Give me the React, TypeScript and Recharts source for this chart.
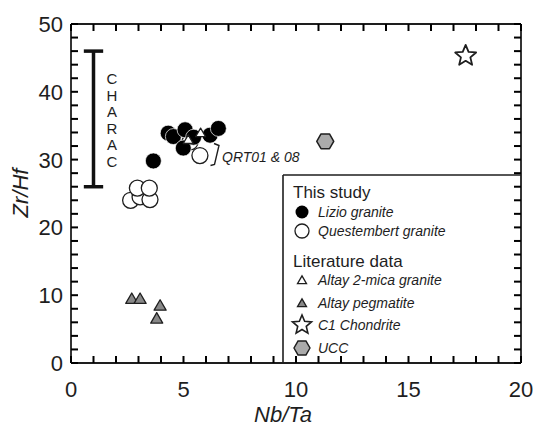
import React from 'react';
import { ScatterChart, Scatter, XAxis, YAxis, ReferenceLine } from 'recharts';

// chart box (pixels)
const W = 539;
const H = 426;
const PLOT = { left: 71, right: 521, top: 24, bottom: 363 };
const AX = { bottom: 40, top: 10, left: 50, right: 10 };
const INK = '#1e1e1e';
const FONT = '"Liberation Sans", Arial, Helvetica, sans-serif';

// axis ticks
const xDomain = [0, 20];
const yDomain = [0, 50];
const xTicks = [0, 1, 2, 3, 4, 5, 6, 7, 8, 9, 10, 11, 12, 13, 14, 15, 16, 17, 18, 19, 20];
const yTicks = [0, 2, 4, 6, 8, 10, 12, 14, 16, 18, 20, 22, 24, 26, 28, 30, 32, 34, 36, 38, 40, 42, 44, 46, 48, 50];
const xLabelEvery = 5;
const yLabelEvery = 10;

// Nb/Ta, Zr/Hf pairs
const lizio = [[3.66, 29.8], [4.32, 33.9], [4.55, 33.4], [5.07, 34.4], [4.99, 31.7], [5.45, 33.3], [6.18, 33.6], [6.55, 34.6]];
const questembert = [[2.65, 24.0], [3.07, 24.5], [3.51, 24.1], [2.95, 25.8], [3.48, 25.8], [5.29, 32.6], [5.73, 30.6]];
const altayMica = [[5.21, 32.8], [5.76, 33.8]];
const altayPegmatite = [[2.70, 9.3], [3.07, 9.3], [3.96, 8.3], [3.81, 6.4]];
const chondrite = [[17.54, 45.3]];
const ucc = [[11.3, 32.7]];

// CHARAC range bar
const characX = 1;
const characRange = [26, 46];
const capHalf = 0.43;

const toPts = (arr: number[][]) => arr.map(([x, y]) => ({ x, y }));

const circle = (fill: string, stroke: string, sw: number, r = 8) => (p: any) => (
  <circle cx={p.cx} cy={p.cy} r={r} fill={fill} stroke={stroke} strokeWidth={sw} />
);

const triPts = (cx: number, cy: number, s: number) => {
  const h = s * 0.866;
  return `${cx},${cy - (h * 2) / 3} ${cx - s / 2},${cy + h / 3} ${cx + s / 2},${cy + h / 3}`;
};
const triangle = (fill: string, s: number) => (p: any) => (
  <polygon points={triPts(p.cx, p.cy, s)} fill={fill} stroke={INK} strokeWidth={1.3} strokeLinejoin="round" />
);

const starPts = (cx: number, cy: number, R: number, r: number) => {
  const pts: string[] = [];
  for (let i = 0; i < 10; i++) {
    const rad = i % 2 === 0 ? R : r;
    const a = -Math.PI / 2 + (i * Math.PI) / 5;
    pts.push(`${cx + rad * Math.cos(a)},${cy + rad * Math.sin(a)}`);
  }
  return pts.join(' ');
};
const star = (R: number) => (p: any) => (
  <polygon points={starPts(p.cx, p.cy, R, R * 0.45)} fill="#fff" stroke={INK} strokeWidth={1.8} strokeLinejoin="round" />
);

const hexPts = (cx: number, cy: number, R: number) => {
  const pts: string[] = [];
  for (let i = 0; i < 6; i++) {
    const a = (i * Math.PI) / 3;
    pts.push(`${cx + R * Math.cos(a)},${cy + R * Math.sin(a)}`);
  }
  return pts.join(' ');
};
const hexagon = (R: number) => (p: any) => (
  <polygon points={hexPts(p.cx, p.cy, R)} fill="#aaaaaa" stroke={INK} strokeWidth={1.5} strokeLinejoin="round" />
);

// tick numbers (major values only)
const AxisLabel = (p: any) => {
  const { side, payload } = p;
  const v = payload.value;
  const c = payload.coordinate;
  if (side === 'bottom' && v % xLabelEvery === 0)
    return <text x={c} y={PLOT.bottom + 34} textAnchor="middle" fontSize={22} fill={INK} fontFamily={FONT}>{v}</text>;
  if (side === 'left' && v % yLabelEvery === 0)
    return <text x={PLOT.left - 8} y={c + 8} textAnchor="end" fontSize={22} fill={INK} fontFamily={FONT}>{v}</text>;
  return <g />;
};

// inward tick marks on all four sides
const TICK_LEN = 7;
const xPix = (v: number) => PLOT.left + ((v - xDomain[0]) / (xDomain[1] - xDomain[0])) * (PLOT.right - PLOT.left);
const yPix = (v: number) => PLOT.bottom - ((v - yDomain[0]) / (yDomain[1] - yDomain[0])) * (PLOT.bottom - PLOT.top);
const TickMarks = () => (
  <g>
    {xTicks.map((v) => (
      <g key={`x${v}`}>
        <rect x={xPix(v) - 1} y={PLOT.bottom - TICK_LEN} width={2} height={TICK_LEN} fill="#000" />
        <rect x={xPix(v) - 1} y={PLOT.top} width={2} height={TICK_LEN} fill="#000" />
      </g>
    ))}
    {yTicks.map((v) => (
      <g key={`y${v}`}>
        <rect x={PLOT.left} y={yPix(v) - 1} width={TICK_LEN} height={2} fill="#000" />
        <rect x={PLOT.right - TICK_LEN} y={yPix(v) - 1} width={TICK_LEN} height={2} fill="#000" />
      </g>
    ))}
  </g>
);

const axisLineStyle = { stroke: INK, strokeWidth: 1.8 };

const legendItems = [
  { label: 'Lizio granite', y: 212, mark: 'fill' },
  { label: 'Questembert granite', y: 231, mark: 'open' },
  { label: 'Altay 2-mica granite', y: 280, mark: 'triOpen' },
  { label: 'Altay pegmatite', y: 303, mark: 'triGray' },
  { label: 'C1 Chondrite', y: 325, mark: 'star' },
  { label: 'UCC', y: 348, mark: 'hex' },
];

const LegendMark = ({ kind, cx, cy }: { kind: string; cx: number; cy: number }) => {
  if (kind === 'fill') return <circle cx={cx} cy={cy} r={6.5} fill="#000" />;
  if (kind === 'open') return <circle cx={cx} cy={cy} r={7} fill="#fff" stroke={INK} strokeWidth={1.3} />;
  if (kind === 'triOpen') return <polygon points={triPts(cx, cy + 1, 9)} fill="#fff" stroke={INK} strokeWidth={1.3} />;
  if (kind === 'triGray') return <polygon points={triPts(cx, cy + 1, 9)} fill="#888" stroke={INK} strokeWidth={1.3} />;
  if (kind === 'star') return <polygon points={starPts(cx, cy, 10, 4.5)} fill="#fff" stroke={INK} strokeWidth={1.6} />;
  return <polygon points={hexPts(cx, cy, 8)} fill="#aaaaaa" stroke={INK} strokeWidth={1.4} />;
};

const Overlay = () => (
  <svg width={W} height={H} style={{ position: 'absolute', left: 0, top: 0, pointerEvents: 'none' }} fontFamily={FONT}>
    <TickMarks />

    {/* axis titles */}
    <text x={283} y={422} textAnchor="middle" fontSize={22} fontStyle="italic" fill={INK}>Nb/Ta</text>
    <text transform="translate(28,193) rotate(-90)" textAnchor="middle" fontSize={22} fontStyle="italic" fill={INK}>Zr/Hf</text>

    {/* CHARAC label */}
    {'CHARAC'.split('').map((ch, i) => (
      <text key={i} x={112} y={84 + i * 16.6} textAnchor="middle" fontSize={15} fill={INK}>{ch}</text>
    ))}

    {/* QRT01 & 08 bracket */}
    <path d="M214,143.5 L219,145.5 L214.5,164.5 L210.5,165.5" fill="none" stroke={INK} strokeWidth={1.4} />
    <text x={222} y={162} fontSize={14} fontStyle="italic" fill={INK}>QRT01 &amp; 08</text>

    {/* legend box */}
    <line x1={283} x2={283} y1={175} y2={PLOT.bottom} stroke={INK} strokeWidth={1.6} />
    <line x1={283} x2={PLOT.right} y1={175} y2={175} stroke={INK} strokeWidth={1.6} />
    <text x={293} y={198} fontSize={17} fill={INK}>This study</text>
    <text x={293} y={267} fontSize={17} fill={INK}>Literature data</text>
    {legendItems.map((it) => (
      <g key={it.label}>
        <LegendMark kind={it.mark} cx={302} cy={it.y} />
        <text x={318} y={it.y + 5} fontSize={14} fontStyle="italic" fill={INK}>{it.label}</text>
      </g>
    ))}
  </svg>
);

export default function App() {
  return (
    <div style={{ position: 'absolute', left: 0, top: 0, width: W, height: H, background: '#fff' }}>
      <ScatterChart
        width={W}
        height={H}
        margin={{
          top: PLOT.top - AX.top,
          right: W - PLOT.right - AX.right,
          bottom: H - PLOT.bottom - AX.bottom,
          left: PLOT.left - AX.left,
        }}
      >
        <XAxis xAxisId="b" type="number" dataKey="x" domain={xDomain} ticks={xTicks} interval={0}
          height={AX.bottom} axisLine={axisLineStyle} tickLine={false} tick={<AxisLabel side="bottom" />} allowDataOverflow />
        <XAxis xAxisId="t" orientation="top" type="number" dataKey="x" domain={xDomain} ticks={xTicks} interval={0}
          height={AX.top} axisLine={axisLineStyle} tickLine={false} tick={false} allowDataOverflow />
        <YAxis yAxisId="l" type="number" dataKey="y" domain={yDomain} ticks={yTicks} interval={0}
          width={AX.left} axisLine={axisLineStyle} tickLine={false} tick={<AxisLabel side="left" />} allowDataOverflow />
        <YAxis yAxisId="r" orientation="right" type="number" dataKey="y" domain={yDomain} ticks={yTicks} interval={0}
          width={AX.right} axisLine={axisLineStyle} tickLine={false} tick={false} allowDataOverflow />

        <ReferenceLine xAxisId="b" yAxisId="l" segment={[{ x: characX, y: characRange[0] }, { x: characX, y: characRange[1] }]}
          stroke="#111" strokeWidth={3.5} ifOverflow="visible" />
        <ReferenceLine xAxisId="b" yAxisId="l" segment={[{ x: characX - capHalf, y: characRange[1] }, { x: characX + capHalf, y: characRange[1] }]}
          stroke="#111" strokeWidth={3.5} ifOverflow="visible" />
        <ReferenceLine xAxisId="b" yAxisId="l" segment={[{ x: characX - capHalf, y: characRange[0] }, { x: characX + capHalf, y: characRange[0] }]}
          stroke="#111" strokeWidth={3.5} ifOverflow="visible" />

        <Scatter xAxisId="b" yAxisId="l" name="Altay pegmatite" data={toPts(altayPegmatite)} shape={triangle('#888888', 12)} isAnimationActive={false} />
        <Scatter xAxisId="b" yAxisId="l" name="Questembert granite" data={toPts(questembert)} shape={circle('#fff', INK, 1.3)} isAnimationActive={false} />
        <Scatter xAxisId="b" yAxisId="l" name="Lizio granite" data={toPts(lizio)} shape={circle('#000', '#ffffff', 0.7)} isAnimationActive={false} />
        <Scatter xAxisId="b" yAxisId="l" name="Altay 2-mica granite" data={toPts(altayMica)} shape={triangle('#fff', 10)} isAnimationActive={false} />
        <Scatter xAxisId="b" yAxisId="l" name="UCC" data={toPts(ucc)} shape={hexagon(8.5)} isAnimationActive={false} />
        <Scatter xAxisId="b" yAxisId="l" name="C1 Chondrite" data={toPts(chondrite)} shape={star(11)} isAnimationActive={false} />
      </ScatterChart>
      <Overlay />
    </div>
  );
}
